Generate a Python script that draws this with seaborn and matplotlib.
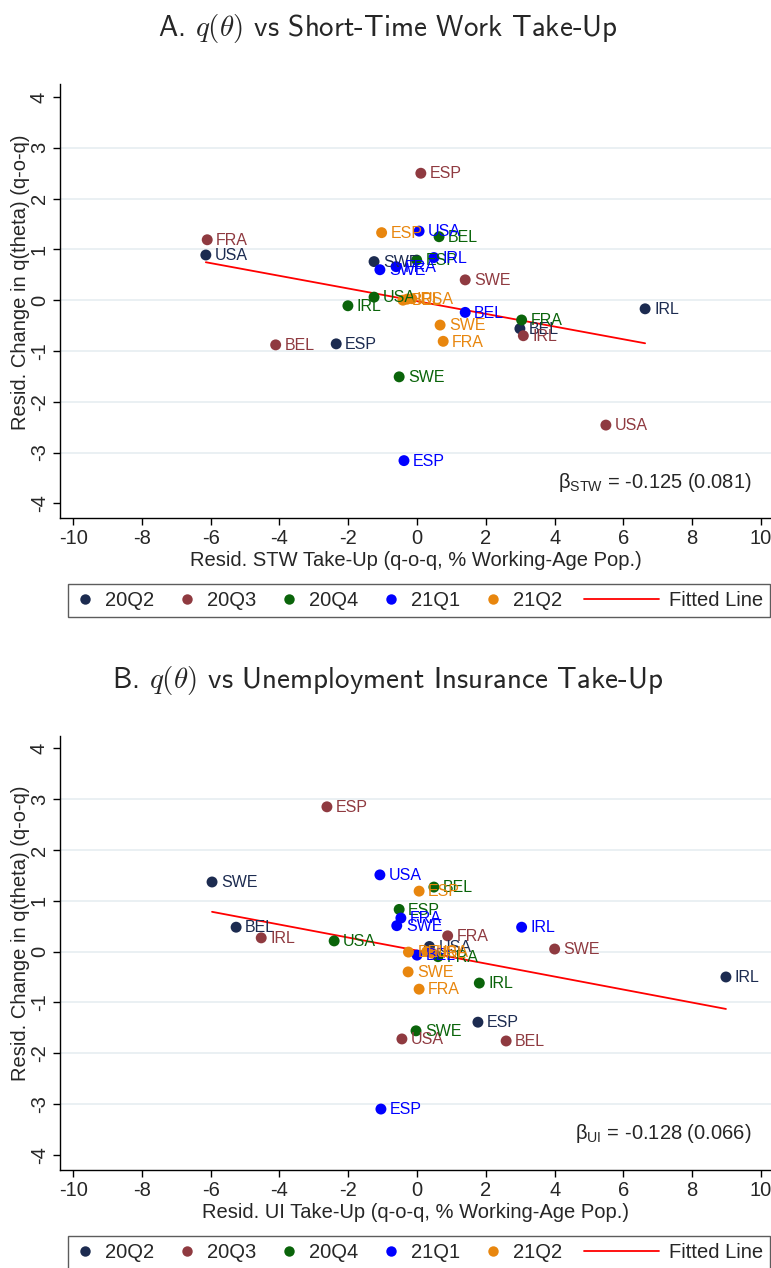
import numpy as np
import pandas as pd
import matplotlib
matplotlib.use("Agg")
import matplotlib.pyplot as plt
import seaborn as sns
from matplotlib.lines import Line2D
from matplotlib.legend_handler import HandlerLine2D

# ---------------------------------------------------------------- data
QUARTERS = ["20Q2", "20Q3", "20Q4", "21Q1", "21Q2"]
COLORS = ["#1c2b50", "#8f3a40", "#0a640a", "#0000ff", "#e8860e"]

# Panel A: short-time work take-up
stw_quarter = ["20Q2"] * 5 + ["20Q3"] * 6 + ["20Q4"] * 6 + ["21Q1"] * 6 + ["21Q2"] * 6
stw_country = ["USA", "SWE", "ESP", "BEL", "IRL",
               "FRA", "ESP", "SWE", "BEL", "IRL", "USA",
               "BEL", "ESP", "USA", "IRL", "FRA", "SWE",
               "USA", "IRL", "FRA", "SWE", "BEL", "ESP",
               "ESP", "BEL", "IRL", "USA", "SWE", "FRA"]
stw_x = [-6.14, -1.25, -2.35, 2.99, 6.63,
         -6.10, 0.11, 1.40, -4.11, 3.09, 5.49,
         0.64, -0.01, -1.25, -2.01, 3.04, -0.52,
         0.06, 0.49, -0.61, -1.08, 1.40, -0.38,
         -1.03, -0.41, -0.29, -0.15, 0.67, 0.76]
stw_y = [0.89, 0.76, -0.86, -0.56, -0.17,
         1.19, 2.50, 0.40, -0.88, -0.70, -2.46,
         1.25, 0.79, 0.06, -0.11, -0.39, -1.51,
         1.36, 0.84, 0.66, 0.60, -0.24, -3.16,
         1.33, 0.00, 0.02, 0.03, -0.49, -0.81]
stw_beta, stw_se, stw_alpha = -0.125, 0.081, -0.02

# Panel B: unemployment insurance take-up
ui_quarter = ["20Q2"] * 5 + ["20Q3"] * 6 + ["20Q4"] * 6 + ["21Q1"] * 6 + ["21Q2"] * 6
ui_country = ["SWE", "BEL", "USA", "ESP", "IRL",
              "ESP", "IRL", "FRA", "SWE", "BEL", "USA",
              "BEL", "ESP", "USA", "IRL", "SWE", "FRA",
              "USA", "FRA", "SWE", "IRL", "ESP", "BEL",
              "ESP", "BEL", "USA", "IRL", "SWE", "FRA"]
ui_x = [-5.96, -5.26, 0.36, 1.77, 8.98,
        -2.62, -4.53, 0.89, 4.00, 2.59, -0.44,
        0.49, -0.52, -2.41, 1.81, -0.03, 0.61,
        -1.08, -0.47, -0.59, 3.04, -1.05, 0.00,
        0.06, -0.25, 0.28, 0.44, -0.26, 0.06]
ui_y = [1.37, 0.48, 0.10, -1.39, -0.50,
        2.85, 0.27, 0.31, 0.05, -1.76, -1.72,
        1.27, 0.83, 0.21, -0.62, -1.56, -0.10,
        1.51, 0.66, 0.51, 0.48, -3.10, -0.07,
        1.19, -0.01, 0.00, -0.03, -0.40, -0.74]
ui_beta, ui_se, ui_alpha = -0.128, 0.066, 0.02

x_ticks = list(range(-10, 11, 2))
y_ticks = list(range(-4, 5))

# ---------------------------------------------------------------- style
sns.set_theme(style="white")
plt.rcParams["font.family"] = ["Liberation Sans", "DejaVu Sans"]
plt.rcParams["mathtext.fontset"] = "custom"
plt.rcParams["mathtext.rm"] = "Liberation Sans"
plt.rcParams["mathtext.it"] = "Liberation Sans:italic"
plt.rcParams["mathtext.bf"] = "Liberation Sans:bold"

palette = dict(zip(QUARTERS, COLORS))
FS = 14.5
W, H = 771, 1268


class WideLineHandler(HandlerLine2D):
    """Legend handler giving the fitted line a longer sample."""

    def __init__(self, scale=3.7, **kw):
        super().__init__(**kw)
        self.scale = scale

    def legend_artist(self, legend, orig_handle, fontsize, handlebox):
        handlebox.width *= self.scale
        return super().legend_artist(legend, orig_handle, fontsize, handlebox)


def draw_panel(ax, quarter, country, xs, ys, beta, se, alpha, xlabel, beta_tex, ylim):
    df = pd.DataFrame({"quarter": quarter, "country": country, "x": xs, "y": ys})

    for yt in y_ticks[1:-1]:
        ax.axhline(yt, color="#eaf0f3", lw=1.4, zorder=0)

    sns.scatterplot(data=df, x="x", y="y", hue="quarter", hue_order=QUARTERS,
                    palette=palette, s=62, edgecolor="none", linewidth=0,
                    legend=False, ax=ax, zorder=3)
    for _, r in df.iterrows():
        ax.annotate(r["country"], (r["x"], r["y"]), xytext=(6.5, -0.5),
                    textcoords="offset points", va="center", ha="left",
                    fontsize=11.5, color=palette[r["quarter"]], zorder=4)

    fx = np.array([df["x"].min(), df["x"].max()])
    sns.lineplot(x=fx, y=alpha + beta * fx, color="red", lw=1.3, ax=ax, zorder=2)

    ax.set_xlim(-10.38, 10.29)
    ax.set_ylim(*ylim)
    ax.set_xticks(x_ticks)
    ax.set_yticks(y_ticks)
    ax.set_xticklabels([str(t) for t in x_ticks])
    ax.set_yticklabels([str(t) for t in y_ticks])
    ax.tick_params(axis="both", direction="out", length=5, width=1, color="black",
                   labelsize=FS, pad=3, left=True, bottom=True)
    ax.tick_params(axis="y", labelrotation=90)
    for lab in ax.get_yticklabels():
        lab.set_va("center")
    for side in ("top", "right"):
        ax.spines[side].set_visible(False)
    for side in ("left", "bottom"):
        ax.spines[side].set_color("black")
        ax.spines[side].set_linewidth(1.0)

    ax.set_xlabel(xlabel, fontsize=FS, labelpad=2)
    ax.set_ylabel("Resid. Change in q(theta) (q-o-q)", fontsize=FS)
    ax.yaxis.set_label_coords(-0.042, 0.544)

    ax.text(0.973, 0.083, beta_tex + f" = {beta:.3f} ({se:.3f})",
            transform=ax.transAxes, ha="right", va="center", fontsize=FS)


fig = plt.figure(figsize=(W / 100, H / 100), dpi=100)
axA = fig.add_axes([60 / W, 1 - 518 / H, (W - 60) / W, (518 - 84.4) / H])
axB = fig.add_axes([60 / W, 1 - 1170 / H, (W - 60) / W, (1170 - 735.7) / H])

draw_panel(axA, stw_quarter, stw_country, stw_x, stw_y, stw_beta, stw_se, stw_alpha,
           "Resid. STW Take-Up (q-o-q, % Working-Age Pop.)",
           r"β$_{\mathrm{STW}}$", (-4.29, 4.25))
draw_panel(axB, ui_quarter, ui_country, ui_x, ui_y, ui_beta, ui_se, ui_alpha,
           "Resid. UI Take-Up (q-o-q, % Working-Age Pop.)",
           r"β$_{\mathrm{UI}}$", (-4.30, 4.25))

title_kw = dict(ha="center", va="center", fontsize=20.9, family="cmss10",
                math_fontfamily="cm")
fig.text(0.503, 1 - 28 / H, r"A. $q(\theta)$ vs Short-Time Work Take-Up", **title_kw)
fig.text(0.503, 1 - 680 / H, r"B. $q(\theta)$ vs Unemployment Insurance Take-Up", **title_kw)

# legends below each panel
handles = [Line2D([], [], marker="o", ls="", ms=7.5, color=c, mec="none") for c in COLORS]
fit_handle = Line2D([], [], color="red", lw=1.3)
labels = QUARTERS + ["Fitted Line"]
for ax, top in ((axA, 585), (axB, 1237)):
    leg = ax.legend(handles + [fit_handle], labels, loc="upper left",
                    bbox_to_anchor=(68 / W, 1 - top / H, (770 - 68) / W, 0.001),
                    bbox_transform=fig.transFigure, ncol=6, mode="expand",
                    fontsize=FS, frameon=True, fancybox=False, handlelength=1.0,
                    handletextpad=0.5, borderaxespad=0, numpoints=1,
                    borderpad=0.35, handler_map={fit_handle: WideLineHandler(3.7)})
    leg.get_frame().set_edgecolor("#333333")
    leg.get_frame().set_linewidth(1.0)

fig.savefig("out.png", dpi=100)
